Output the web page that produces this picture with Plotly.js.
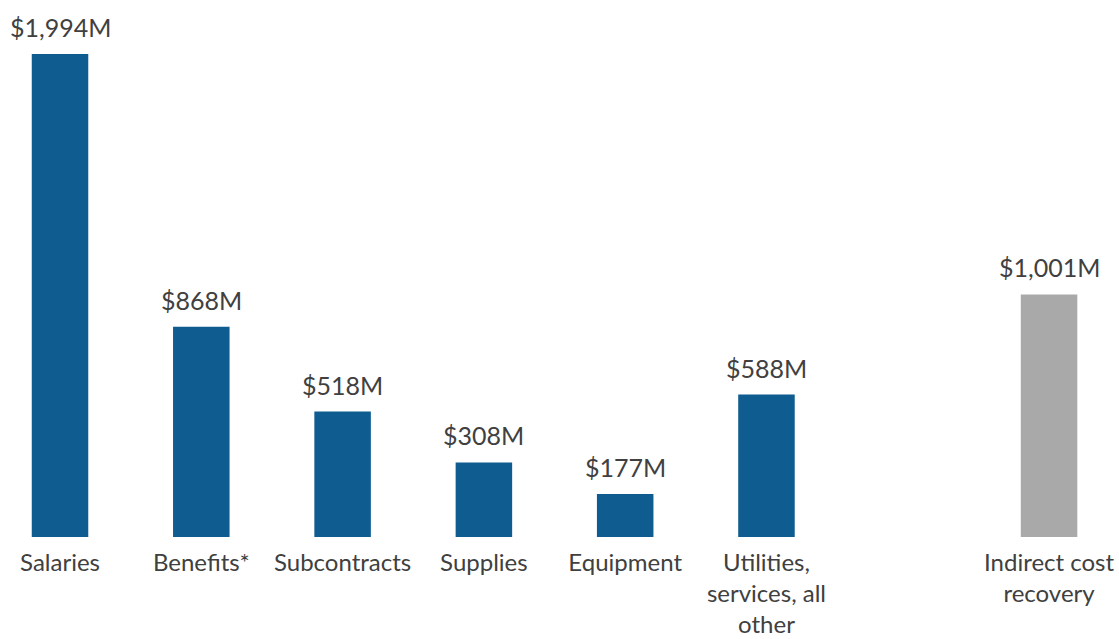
<!DOCTYPE html>
<html>
<head>
<meta charset="utf-8">
<script src="https://cdn.plot.ly/plotly-3.0.1.min.js"></script>
<style>html,body{margin:0;padding:0;background:#fff;}#chart{width:1119px;height:639px;}</style>
</head>
<body>
<div id="chart"></div>
<script>
var categories = ["Salaries", "Benefits*", "Subcontracts", "Supplies", "Equipment", "Utilities,<br>services, all<br>other", " ", "Indirect cost<br>recovery"];
var values = [1994, 868, 518, 308, 177, 588, null, 1001];
var barColors = ["#0E5C90", "#0E5C90", "#0E5C90", "#0E5C90", "#0E5C90", "#0E5C90", "#0E5C90", "#A9A9A9"];
var labels = ["$1,994M", "$868M", "$518M", "$308M", "$177M", "$588M", "", "$1,001M"];

var FONT = "Lato, 'Open Sans', sans-serif";
var TXT = "#404040";

var annotations = [];
for (var i = 0; i < categories.length; i++) {
  if (values[i] === null) continue;
  annotations.push({
    x: categories[i], y: values[i], xref: "x", yref: "y",
    text: labels[i], showarrow: false,
    yanchor: "middle", yshift: 27,
    font: {family: FONT, size: 25, color: TXT}
  });
}

Plotly.newPlot("chart", [{
  type: "bar",
  x: categories,
  y: values,
  width: 0.4,
  marker: {color: barColors},
  hoverinfo: "none"
}], {
  width: 1119, height: 639,
  margin: {l: 0, r: 0, t: 4, b: 102},
  paper_bgcolor: "#fff", plot_bgcolor: "#fff",
  showlegend: false,
  xaxis: {
    type: "category",
    range: [-0.4247, 7.495],
    showgrid: false, zeroline: false, showline: false, ticks: "",
    tickangle: 0,
    ticklabelstandoff: 9,
    tickfont: {family: FONT, size: 24, color: TXT},
    automargin: false
  },
  yaxis: {
    range: [0, 2200],
    showgrid: false, zeroline: false, showline: false,
    showticklabels: false, ticks: ""
  },
  annotations: annotations
}, {displayModeBar: false, staticPlot: true});
</script>
</body>
</html>
